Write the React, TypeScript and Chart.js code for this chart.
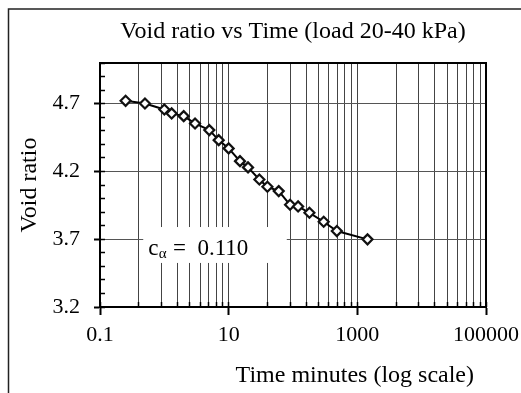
import React, { useEffect, useRef } from 'react';
import { Chart, registerables } from 'chart.js';

Chart.register(...registerables);

// ---- data ----
const timeMinutes = [0.25, 0.5, 1, 1.3, 2, 3, 5, 7, 10, 15, 20, 30, 40, 60, 90, 120, 180, 300, 480, 1440];
const voidRatio = [4.721, 4.701, 4.657, 4.628, 4.608, 4.554, 4.505, 4.431, 4.37, 4.276, 4.23, 4.141, 4.087, 4.055, 3.954, 3.942, 3.895, 3.829, 3.76, 3.699];

// ---- ticks ----
const xMajorTicks = [0.1, 10, 1000, 100000];
const xMinorFactors = [4, 9, 16, 25, 36, 49, 64, 81];
const yMajorTicks = [3.2, 3.7, 4.2, 4.7];
const yMinorTicks = [3.2, 3.3, 3.4, 3.5, 3.6, 3.7, 3.8, 3.9, 4.0, 4.1, 4.2, 4.3, 4.4, 4.5, 4.6, 4.7, 4.8, 4.9, 5.0];

// ---- texts ----
const chartTitle = 'Void ratio vs Time (load 20-40 kPa)';
const xTitle = 'Time minutes (log scale)  ';
const yTitle = 'Void ratio';
const noteMain = 'c';
const noteSub = 'α';
const noteRest = ' =  0.110';

const FONT = "'Liberation Serif', 'Times New Roman', serif";

const xGridTicks: number[] = [];
xMajorTicks.forEach((m, i) => {
  xGridTicks.push(m);
  if (i < xMajorTicks.length - 1) {
    xMinorFactors.forEach((f) => xGridTicks.push(Number((m * f).toPrecision(6))));
  }
});

const isXMajor = (v: number) => xMajorTicks.some((m) => Math.abs(v - m) / m < 1e-6);

const framePlugin = {
  id: 'frame',
  beforeDatasetsDraw(chart: any) {
    const { ctx, scales } = chart;
    const xs = scales.x;
    const ys = scales.y;
    // annotation box (data coordinates)
    const l = xs.getPixelForValue(0.47);
    const r = xs.getPixelForValue(80);
    const t = ys.getPixelForValue(3.79);
    const b = ys.getPixelForValue(3.525);
    ctx.save();
    ctx.fillStyle = '#fff';
    ctx.fillRect(l, t, r - l, b - t);
    const tx = xs.getPixelForValue(0.56);
    const ty = ys.getPixelForValue(3.627);
    ctx.fillStyle = '#000';
    ctx.textBaseline = 'middle';
    ctx.textAlign = 'left';
    ctx.font = `23px ${FONT}`;
    ctx.fillText(noteMain, tx, ty);
    const w1 = ctx.measureText(noteMain).width;
    ctx.font = `15px ${FONT}`;
    ctx.fillText(noteSub, tx + w1 + 0.5, ty + 5);
    const w2 = ctx.measureText(noteSub).width;
    ctx.font = `23px ${FONT}`;
    ctx.fillText(noteRest, tx + w1 + w2 + 1, ty);
    ctx.restore();
  },
  afterDraw(chart: any) {
    const { ctx, chartArea } = chart;
    ctx.save();
    ctx.strokeStyle = '#000';
    ctx.lineWidth = 2;
    ctx.strokeRect(chartArea.left, chartArea.top, chartArea.right - chartArea.left, chartArea.bottom - chartArea.top);
    ctx.strokeStyle = '#222';
    ctx.lineWidth = 1.5;
    ctx.beginPath();
    ctx.moveTo(8.5, chart.height);
    ctx.lineTo(8.5, 9);
    ctx.lineTo(chart.width, 9);
    ctx.stroke();
    ctx.restore();
  },
};

export default function App() {
  const ref = useRef<HTMLCanvasElement | null>(null);

  useEffect(() => {
    if (!ref.current) return;
    const chart = new Chart(ref.current, {
      type: 'line',
      data: {
        datasets: [
          {
            data: timeMinutes.map((t, i) => ({ x: t, y: voidRatio[i] })),
            borderColor: '#000',
            borderWidth: 2,
            pointStyle: 'rectRot',
            pointRadius: 5,
            pointBorderWidth: 2.2,
            pointBorderColor: '#111',
            pointBackgroundColor: '#fff',
            tension: 0,
            fill: false,
            xAxisID: 'x',
            yAxisID: 'y',
          },
        ],
      },
      plugins: [framePlugin],
      options: {
        responsive: false,
        animation: false,
        layout: { padding: 0 },
        plugins: {
          legend: { display: false },
          tooltip: { enabled: false },
          title: {
            display: true,
            text: chartTitle,
            fullSize: false,
            color: '#000',
            font: { family: FONT, size: 24, weight: 'normal' },
            padding: { top: 17.6, bottom: 16.6 },
          },
        },
        scales: {
          x: {
            type: 'logarithmic',
            position: 'bottom',
            weight: 1,
            min: 0.1,
            max: 100000,
            afterBuildTicks: (s: any) => {
              s.ticks = xGridTicks.map((v) => ({ value: v }));
            },
            afterFit: (s: any) => {
              s.height = 86;
              s.paddingLeft = 0;
              s.paddingRight = 35;
            },
            ticks: {
              autoSkip: false,
              maxRotation: 0,
              minRotation: 0,
              padding: 7,
              color: '#000',
              font: { family: FONT, size: 22 },
              callback: (v: any) => (isXMajor(Number(v)) ? String(Number(v)) : ''),
            },
            grid: {
              color: '#444',
              lineWidth: 1,
              borderDash: [2, 2],
              tickLength: 8,
              tickColor: (c: any) => (c.tick && isXMajor(c.tick.value) ? '#000' : 'rgba(0,0,0,0)'),
              tickWidth: 2,
            },
            border: { display: true, color: '#000', width: 2 },
            title: {
              display: true,
              text: xTitle,
              align: 'end',
              color: '#000',
              font: { family: FONT, size: 24 },
              padding: { top: 0, bottom: 2.6 },
            },
          },
          x2: {
            type: 'logarithmic',
            position: 'bottom',
            weight: 0,
            min: 0.1,
            max: 100000,
            afterBuildTicks: (s: any) => {
              s.ticks = xGridTicks.map((v) => ({ value: v }));
            },
            afterFit: (s: any) => {
              s.height = 0;
              s.paddingLeft = 0;
              s.paddingRight = 0;
            },
            ticks: { display: false, autoSkip: false },
            grid: {
              drawOnChartArea: false,
              drawTicks: true,
              tickLength: -5,
              tickColor: '#000',
              tickWidth: 1.5,
            },
            border: { display: false },
          },
          y: {
            type: 'linear',
            position: 'left',
            weight: 1,
            min: 3.2,
            max: 5.0,
            afterBuildTicks: (s: any) => {
              s.ticks = yMajorTicks.map((v) => ({ value: v }));
            },
            afterFit: (s: any) => {
              s.width = 100;
              s.paddingTop = 0;
              s.paddingBottom = 0;
            },
            ticks: {
              autoSkip: false,
              padding: 14,
              color: '#000',
              font: { family: FONT, size: 22 },
              callback: (v: any) => Number(v).toFixed(1),
            },
            grid: {
              color: (c: any) => (c.tick && Math.abs(c.tick.value - 3.2) < 1e-6 ? 'rgba(0,0,0,0)' : '#555'),
              lineWidth: 1,
              borderDash: [1, 2],
              tickLength: 6,
              tickColor: '#000',
              tickWidth: 2,
            },
            border: { display: true, color: '#000', width: 2 },
            title: {
              display: true,
              text: yTitle,
              color: '#000',
              font: { family: FONT, size: 24 },
              padding: { top: 15, bottom: 0 },
            },
          },
          y2: {
            type: 'linear',
            position: 'left',
            weight: 0,
            min: 3.2,
            max: 5.0,
            afterBuildTicks: (s: any) => {
              s.ticks = yMinorTicks.map((v) => ({ value: v }));
            },
            afterFit: (s: any) => {
              s.width = 0;
              s.paddingTop = 0;
              s.paddingBottom = 0;
            },
            ticks: { display: false, autoSkip: false },
            grid: {
              drawOnChartArea: false,
              drawTicks: true,
              tickLength: -5,
              tickColor: '#000',
              tickWidth: 1.5,
            },
            border: { display: false },
          },
        },
      },
    } as any);
    return () => chart.destroy();
  }, []);

  return (
    <div style={{ position: 'absolute', left: 0, top: 0, width: 521, height: 393, background: '#fff' }}>
      <canvas ref={ref} width={521} height={393} style={{ width: 521, height: 393, display: 'block' }} />
    </div>
  );
}
